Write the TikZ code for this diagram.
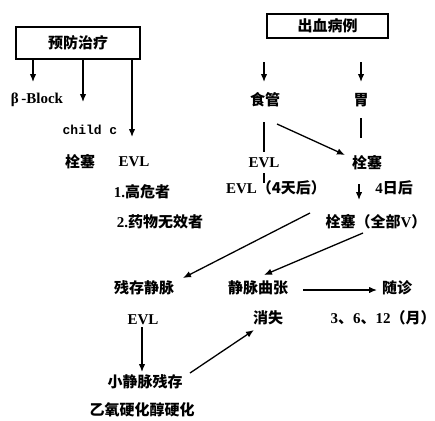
\documentclass[tikz,border=0pt]{standalone}
\usepackage{fontspec}
\setmainfont{Liberation Serif}
\newfontfamily\cjk{Noto Sans CJK SC}
\newfontfamily\monofam{Liberation Mono}
\usetikzlibrary{arrows.meta}
\newcommand\zh[1]{{\cjk #1}}
\begin{document}
\begin{tikzpicture}[x=1pt,y=-1pt,
 lbl/.style={font=\fontsize{15}{17}\selectfont\bfseries, inner sep=0pt},
 boxn/.style={draw, line width=1.3pt, lbl, minimum width=124pt, minimum height=32pt},
 arr/.style={line width=1.3pt, -{Latex[length=8pt,width=6.5pt]}},
 ln/.style={line width=1.2pt}]
\useasboundingbox (0,0) rectangle (435,420);
\node[boxn] (prev) at (78,43) {\zh{预防治疗}};
\node[boxn, minimum width=121pt, minimum height=24pt] (bleed) at (327.5,26) {\zh{出血病例}};
\node[lbl] (beta) at (37,100) {β\,-Block};
\node[lbl, font=\fontsize{13}{15}\selectfont\bfseries\monofam] (child) at (90,130) {child c};
\node[lbl] (shuan1) at (80,162) {\zh{栓塞}};
\node[lbl] (evl1) at (134,162) {EVL};
\node[lbl] (high) at (142,192) {1.\zh{高危者}};
\node[lbl] (drug) at (160,222) {2.\zh{药物无效者}};
\node[lbl] (shiguan) at (265,100) {\zh{食管}};
\node[lbl] (wei) at (361,100) {\zh{胃}};
\node[lbl] (evl2) at (264,163) {EVL};
\node[lbl] (shuan2) at (367,163) {\zh{栓塞}};
\node[lbl] (evl3) at (276,188) {EVL\zh{（4天后）}};
\node[lbl] (fourday) at (394,188) {4\zh{日后}};
\node[lbl] (allv) at (376,222) {\zh{栓塞（全部}V\zh{）}};
\node[lbl] (residual) at (144,288) {\zh{残存静脉}};
\node[lbl] (varix) at (258,288) {\zh{静脉曲张}};
\node[lbl] (follow) at (397,288) {\zh{随诊}};
\node[lbl] (evl4) at (143,320) {EVL};
\node[lbl] (vanish) at (268,318) {\zh{消失}};
\node[lbl] (months) at (383,318) {3\zh{、}6\zh{、}12\zh{（月）}};
\node[lbl] (small) at (145,382) {\zh{小静脉残存}};
\node[lbl] (aethoxy) at (142,410) {\zh{乙氧硬化醇硬化}};
% arrows from prevention box
\draw[arr] ([xshift=-45pt]prev.south) -- ([xshift=-4pt,yshift=18pt]beta.center);
\draw[arr] ([xshift=5pt]prev.south) -- ([xshift=-7pt,yshift=28pt]child.center);
\draw[arr] ([xshift=54pt]prev.south) -- ([xshift=-2pt,yshift=25pt]evl1.center);
% arrows on bleeding side
\draw[arr] ([xshift=-1pt,yshift=38pt]shiguan.center) -- ([xshift=-1pt,yshift=18pt]shiguan.center);
\draw[arr] ([yshift=38pt]wei.center) -- ([yshift=18pt]wei.center);
\draw[ln] ([xshift=-1pt,yshift=-22pt]shiguan.center) -- ([yshift=11pt]evl2.center);
\draw[ln] ([yshift=-10pt]evl2.center) -- ([yshift=-20pt]evl2.center);
\draw[ln] ([yshift=-18pt]wei.center) -- ([yshift=-38pt]wei.center);
\draw[arr] ([xshift=12pt,yshift=-24pt]shiguan.center) -- ([xshift=-22pt,yshift=8pt]shuan2.center);
\draw[arr] ([xshift=-8pt,yshift=-21pt]shuan2.center) -- ([xshift=-8pt,yshift=-37pt]shuan2.center);
\draw[arr] ([xshift=-66pt,yshift=9pt]allv.center) -- ([xshift=39pt,yshift=10pt]residual.center);
\draw[arr] ([xshift=-13pt,yshift=-11pt]allv.center) -- ([xshift=6pt,yshift=13pt]varix.center);
\draw[arr] ([xshift=45pt,yshift=-2pt]varix.center) -- ([xshift=-20pt,yshift=-2pt]follow.center);
\draw[arr] ([xshift=-1pt,yshift=-7pt]evl4.center) -- ([xshift=-3pt,yshift=10pt]small.center);
\draw[arr] ([xshift=45pt,yshift=9pt]small.center) -- ([xshift=-14pt,yshift=-12pt]vanish.center);
\end{tikzpicture}
\end{document}
